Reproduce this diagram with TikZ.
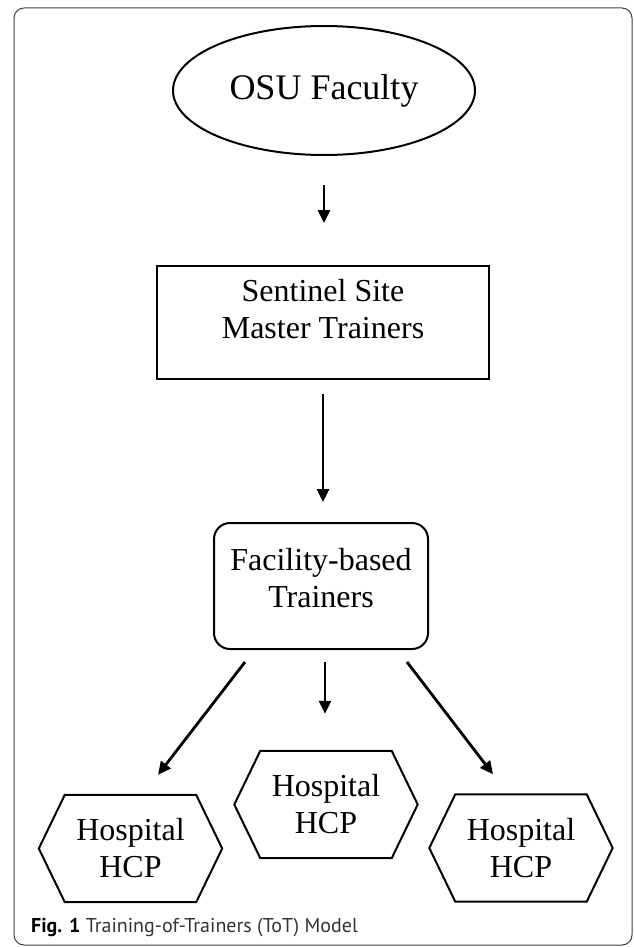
\documentclass[tikz,border=0pt]{standalone}
\usepackage{fontspec}
\setmainfont{Liberation Serif}
\newfontfamily\capfont{PT Sans}
\usetikzlibrary{shapes.geometric,arrows.meta}
\tikzset{
  shapeline/.style={draw=black, line width=2pt},
  txt/.style={align=center, inner sep=0pt, font=\fontsize{32}{37}\selectfont},
  hexbox/.style={minimum width=183pt, minimum height=107pt, inner sep=0pt, txt},
  hexline/.style={shapeline, line join=miter},
  arr/.style={line width=2.8pt, -{Triangle[length=13pt,width=12pt]}},
  frame/.style={draw=black!75, line width=1pt, rounded corners=10pt, minimum width=618pt, minimum height=937pt, inner sep=0pt}
}
\newcommand\hexframe[1]{\draw[hexline] (#1.west) -- ([xshift=26pt]#1.north west) -- ([xshift=-26pt]#1.north east) -- (#1.east) -- ([xshift=-26pt]#1.south east) -- ([xshift=26pt]#1.south west) -- cycle;}
\begin{document}
\begin{tikzpicture}[x=1pt,y=-1pt]
\useasboundingbox (0,0) rectangle (633,947);
\node[frame] (frame) at (323,476.5) {};
% top ellipse
\node[ellipse, shapeline, minimum width=302pt, minimum height=129pt, inner sep=0pt, font=\fontsize{36}{40}\selectfont] (osu) at (324,90.5) {OSU Faculty};
% rectangle
\node[rectangle, shapeline, minimum width=332pt, minimum height=113pt, inner sep=0pt] (ssmt) at (323,322.5) {};
\node[txt] (ssmtt) at (323,309) {Sentinel Site\\Master Trainers};
% rounded rectangle
\node[rectangle, shapeline, rounded corners=16pt, minimum width=214pt, minimum height=126pt, inner sep=0pt] (ff) at (321,586) {};
\node[txt] (fft) at (321,578) {Facility-based\\Trainers};
% hexagons
\node[hexbox] (h1) at (130.5,848.5) {Hospital\\HCP};
\node[hexbox] (h2) at (326,804.5) {Hospital\\HCP};
\node[hexbox] (h3) at (521,848) {Hospital\\HCP};
\hexframe{h1}
\hexframe{h2}
\hexframe{h3}
% arrows
\draw[arr] ([yshift=-29pt]osu.south) -- ([xshift=1pt,yshift=42pt]ssmt.north);
\draw[arr] ([yshift=-14pt]ssmt.south) -- ([xshift=2pt,yshift=20pt]ff.north);
\draw[arr] ([xshift=-76pt,yshift=-12pt]ff.south) -- ([xshift=27.5pt,yshift=20pt]h1.north);
\draw[arr] ([xshift=4pt,yshift=-12pt]ff.south) -- ([xshift=-1pt,yshift=37pt]h2.north);
\draw[arr] ([xshift=86pt,yshift=-12pt]ff.south) -- ([xshift=-28pt,yshift=20pt]h3.north);
% caption
\node[anchor=base west, inner sep=0pt, font=\capfont\fontsize{20}{24}\selectfont, text=black!80] (cap) at (31,932) {\textbf{\color{black}Fig. 1} Training-of-Trainers (ToT) Model};
\end{tikzpicture}
\end{document}
